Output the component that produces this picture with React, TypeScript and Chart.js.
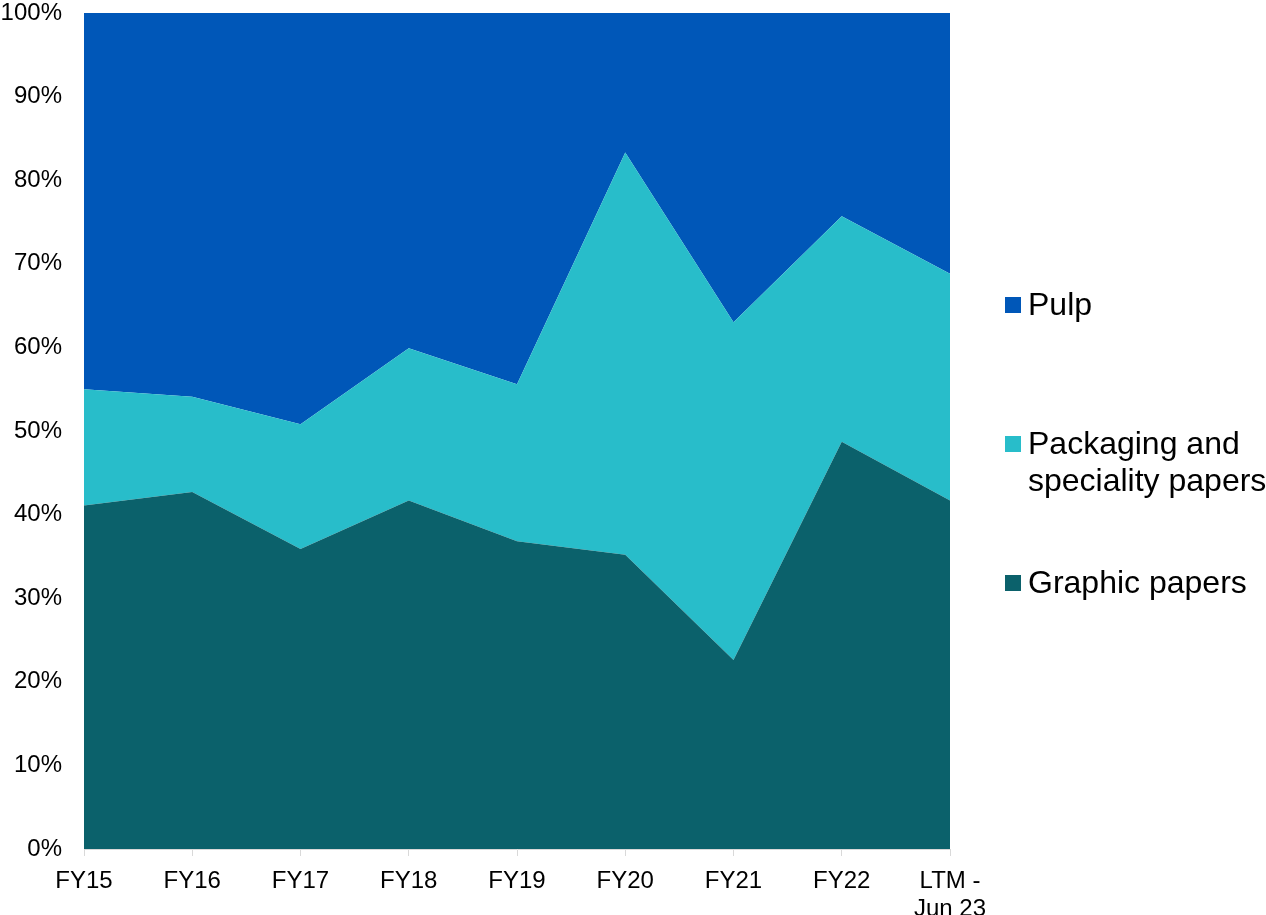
import React, { useEffect, useRef } from "react";
import { Chart, registerables } from "chart.js";

Chart.register(...registerables);

const categories: (string | string[])[] = ["FY15", "FY16", "FY17", "FY18", "FY19", "FY20", "FY21", "FY22", ["LTM -", "Jun 23"]];
const graphicPapers = [41.1, 42.7, 35.9, 41.7, 36.8, 35.2, 22.6, 48.7, 41.7];
const packagingPapers = [13.9, 11.4, 14.9, 18.2, 18.8, 48.1, 40.4, 27.0, 27.1];
const pulp = [45.0, 45.9, 49.2, 40.1, 44.4, 16.7, 37.0, 24.3, 31.2];
const yTicks = [0, 10, 20, 30, 40, 50, 60, 70, 80, 90, 100];

const COLORS = { pulp: "#0057b8", packaging: "#28bdca", graphic: "#0b616b" };
const FONT = "'Liberation Sans', Arial, sans-serif";

const legendItems = [
  { label: ["Pulp"], color: COLORS.pulp, top: 286 },
  { label: ["Packaging and", "speciality papers"], color: COLORS.packaging, top: 425 },
  { label: ["Graphic papers"], color: COLORS.graphic, top: 564 },
];

export default function App() {
  const ref = useRef<HTMLCanvasElement | null>(null);
  useEffect(() => {
    if (!ref.current) return;
    const chart = new Chart(ref.current, {
      type: "line",
      data: {
        labels: categories,
        datasets: [
          { label: "Graphic papers", data: graphicPapers, backgroundColor: COLORS.graphic, borderColor: COLORS.graphic, fill: "origin", borderWidth: 0, pointRadius: 0, tension: 0 },
          { label: "Packaging and speciality papers", data: packagingPapers, backgroundColor: COLORS.packaging, borderColor: COLORS.packaging, fill: "-1", borderWidth: 0, pointRadius: 0, tension: 0 },
          { label: "Pulp", data: pulp, backgroundColor: COLORS.pulp, borderColor: COLORS.pulp, fill: "-1", borderWidth: 0, pointRadius: 0, tension: 0 },
        ],
      },
      options: {
        responsive: false,
        animation: false,
        layout: { padding: { top: 0, right: 316, left: 0, bottom: 0 } },
        plugins: { legend: { display: false }, tooltip: { enabled: false } },
        scales: {
          x: {
            offset: false,
            grid: { display: true, drawOnChartArea: false, drawTicks: true, tickLength: 7, color: "#d9d9d9" },
            border: { display: true, color: "#d9d9d9", width: 1 },
            ticks: { color: "#000", font: { family: FONT, size: 24, lineHeight: 1.15 }, padding: 12, maxRotation: 0, autoSkip: false },
            afterFit: (s: any) => { s.height = 66; },
          },
          y: {
            stacked: true,
            min: 0,
            max: 100,
            afterBuildTicks: (s: any) => { s.ticks = yTicks.map((v) => ({ value: v })); },
            grid: { display: false, drawTicks: false },
            border: { display: true, color: "#d9d9d9", width: 1 },
            ticks: { color: "#000", font: { family: FONT, size: 24 }, padding: 22, callback: (v: any) => v + "%" },
            afterFit: (s: any) => { s.width = 84; s.paddingTop = 13; s.paddingBottom = 0; },
          },
        },
      },
    });
    return () => chart.destroy();
  }, []);

  return (
    <div style={{ position: "fixed", left: 0, top: 0, width: 1266, height: 915, background: "#fff" }}>
      <canvas ref={ref} width={1266} height={915} style={{ width: 1266, height: 915, display: "block" }} />
      {legendItems.map((item, i) => (
        <div key={i} style={{ position: "absolute", left: 1005, top: item.top, display: "flex", alignItems: "flex-start" }}>
          <div style={{ width: 16, height: 16, background: item.color, marginTop: 11, marginRight: 7 }} />
          <div style={{ fontFamily: FONT, fontSize: 32, lineHeight: "37px", color: "#000", whiteSpace: "nowrap", marginTop: 0 }}>
            {item.label.map((l, j) => (<div key={j}>{l}</div>))}
          </div>
        </div>
      ))}
    </div>
  );
}
